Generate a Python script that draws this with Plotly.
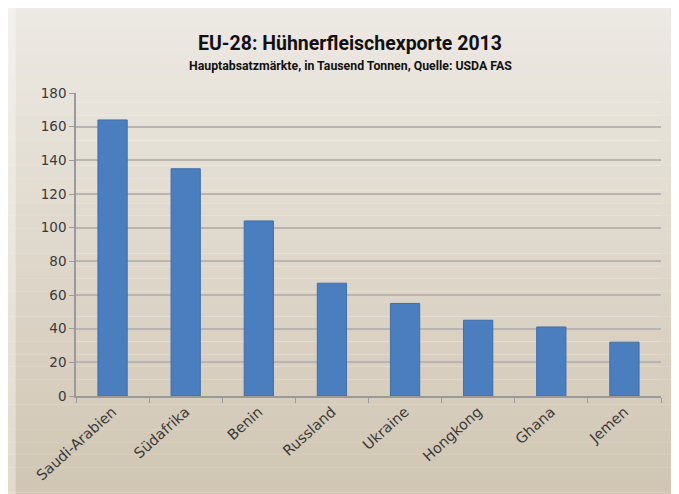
import plotly.graph_objects as go

countries = ["Saudi-Arabien", "Südafrika", "Benin", "Russland", "Ukraine", "Hongkong", "Ghana", "Jemen"]
exports_kt = [164, 135, 104, 67, 55, 45, 41, 32]
y_ticks = [0, 20, 40, 60, 80, 100, 120, 140, 160, 180]

title_text = "EU-28: Hühnerfleischexporte 2013"
subtitle_text = "Hauptabsatzmärkte, in Tausend Tonnen, Quelle: USDA FAS"

fig = go.Figure()
fig.add_trace(go.Bar(
    x=countries, y=exports_kt,
    marker=dict(color="#4a7ebf", line=dict(color="#3f6fa8", width=1)),
    width=0.4,
))

# background gradient bands (paper coords)
top = (237, 234, 228)
bot = (208, 197, 178)
n = 40
shapes = []
y_hi, y_lo = 1.3, -0.36
for i in range(n):
    t = i / (n - 1)
    c = tuple(int(round(top[k] + (bot[k] - top[k]) * t)) for k in range(3))
    step = (y_hi - y_lo) / n
    shapes.append(dict(type="rect", xref="paper", yref="paper",
                       x0=-0.2, x1=1.2,
                       y0=y_hi - (i + 1) * step, y1=y_hi - i * step,
                       fillcolor="rgb(%d,%d,%d)" % c, line=dict(width=0), layer="below"))
# light strip at the left edge
shapes.append(dict(type="rect", xref="paper", yref="paper", x0=-0.2, x1=-0.103,
                   y0=y_lo, y1=y_hi, fillcolor="rgba(255,255,255,0.35)",
                   line=dict(width=0), layer="below"))

head_font = "Liberation Sans Narrow, Roboto, sans-serif"

fig.update_layout(
    width=679, height=494,
    margin=dict(l=68, r=26, t=85, b=106),
    paper_bgcolor="#ebe7e0",
    plot_bgcolor="white",
    shapes=shapes,
    showlegend=False,
    font=dict(family="DejaVu Sans, sans-serif", color="#3a3a3a", size=14),
    annotations=[
        dict(text="<b>" + title_text + "</b>", xref="paper", yref="paper",
             x=0.468, y=1.0, yshift=50, xanchor="center", yanchor="middle", showarrow=False,
             font=dict(family=head_font, size=19.5, color="#111111")),
        dict(text="<b>" + subtitle_text + "</b>", xref="paper", yref="paper",
             x=0.47, y=1.0, yshift=27.5, xanchor="center", yanchor="middle", showarrow=False,
             font=dict(family=head_font, size=12.3, color="#111111")),
    ],
)
fig.update_xaxes(
    tickangle=-42, showline=True, linecolor="#9a9a9a", linewidth=1.5,
    ticks="outside", tickcolor="#9a9a9a", ticklen=5, tickson="boundaries",
    tickfont=dict(size=14.5, color="#3a3a3a"),
)
fig.update_yaxes(
    range=[0, 180], tickvals=y_ticks, showline=True, linecolor="#9a9a9a", linewidth=1.5,
    ticks="outside", tickcolor="#9a9a9a", ticklen=5,
    showgrid=True, gridcolor="#b8b4b0", gridwidth=1.5, zeroline=False,
    tickfont=dict(size=13.5, color="#3a3a3a"),
)

fig.write_html("out.html")
